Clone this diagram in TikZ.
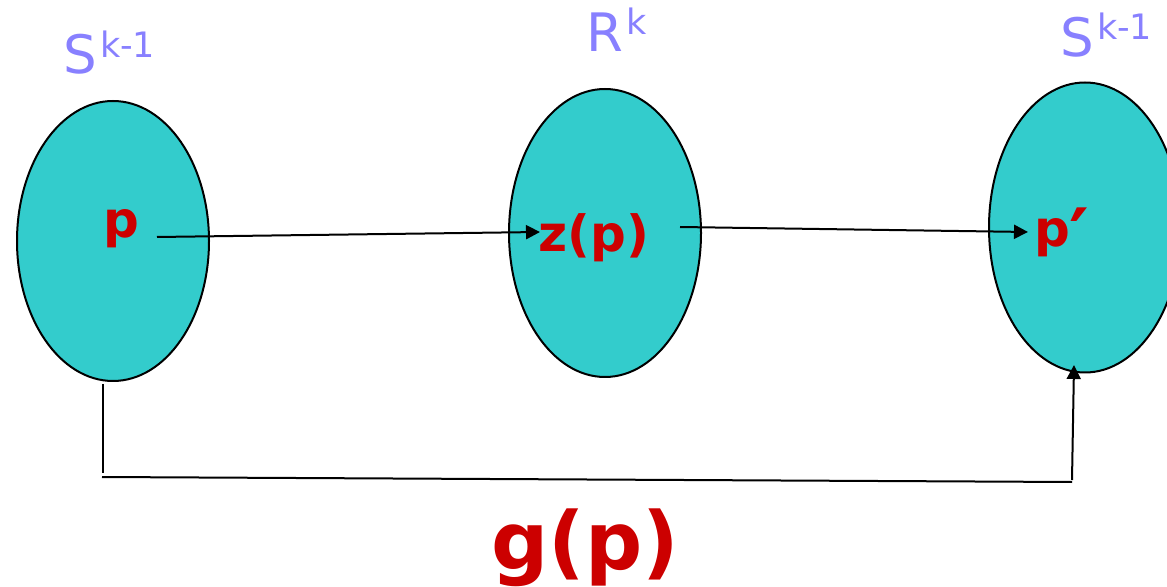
\documentclass[tikz,border=0pt]{standalone}
\usepackage{fontspec}
\setmainfont{DejaVu Sans}
\usetikzlibrary{shapes.geometric,arrows.meta}
\definecolor{lav}{RGB}{136,128,255}
\definecolor{tealfill}{RGB}{51,204,204}
\definecolor{redtext}{RGB}{204,0,0}
\begin{document}
\begin{tikzpicture}[x=0.5pt,y=-0.5pt,
  blob/.style={ellipse,draw=black,line width=1pt,fill=tealfill,inner sep=0pt,minimum width=96pt},
  lbl/.style={text=lav,inner sep=0pt,anchor=base west,font=\fontsize{26.5}{26}\selectfont},
  redlbl/.style={text=redtext,inner sep=0pt,anchor=base west,font=\bfseries\fontsize{25}{25}\selectfont},
  conn/.style={line width=1pt,-{Triangle[length=7pt,width=7pt]}},
  plainline/.style={line width=1pt}]
\useasboundingbox (0,0) rectangle (1167,587);
\clip (0,0) rectangle (1167,587);
% ellipses
\node[blob,minimum height=140pt] (e1) at (113,241) {};
\node[blob,minimum height=144pt] (e2) at (605,233) {};
\node[blob,minimum height=145pt] (e3) at (1085,227.5) {};
% set labels
\node[lbl] (s1) at (63,74) {S\hspace{1.5pt}\raisebox{8pt}{\fontsize{17.5}{17}\selectfont k-1}};
\node[lbl] (rk) at (586,52) {R\hspace{1.5pt}\raisebox{8.5pt}{\fontsize{17.5}{17}\selectfont k}};
\node[lbl] (s2) at (1060,57) {S\hspace{1.5pt}\raisebox{8.5pt}{\fontsize{17.5}{17}\selectfont k-1}};
% red labels
\node[redlbl] (p) at (103,238) {p};
\node[redlbl] (zp) at (538,252) {z(p)};
\node[redlbl] (pp) at (1034,247) {p\hspace{-0.5pt}\raisebox{-8pt}{\scalebox{1.5}{′}}};
\node[redlbl,font=\bfseries\fontsize{40}{40}\selectfont] (gp) at (491,569) {g(p)};
% connector end points
\coordinate (a1s) at (157,237);
\coordinate (a1e) at (540,232);
\coordinate (a2s) at (680,227);
\coordinate (a2e) at (1028,232);
\coordinate (b1) at (103,384);
\coordinate (b2) at (103,473);
\coordinate (b3) at (102,477);
\coordinate (b4) at (1072,482);
\coordinate (b5) at (1072,480);
\coordinate (b6) at (1074,365);
\draw[conn] (a1s) -- (a1e);
\draw[conn] (a2s) -- (a2e);
\draw[plainline] (b1) -- (b2);
\draw[plainline] (b3) -- (b4);
\draw[conn] (b5) -- (b6);
\end{tikzpicture}
\end{document}
